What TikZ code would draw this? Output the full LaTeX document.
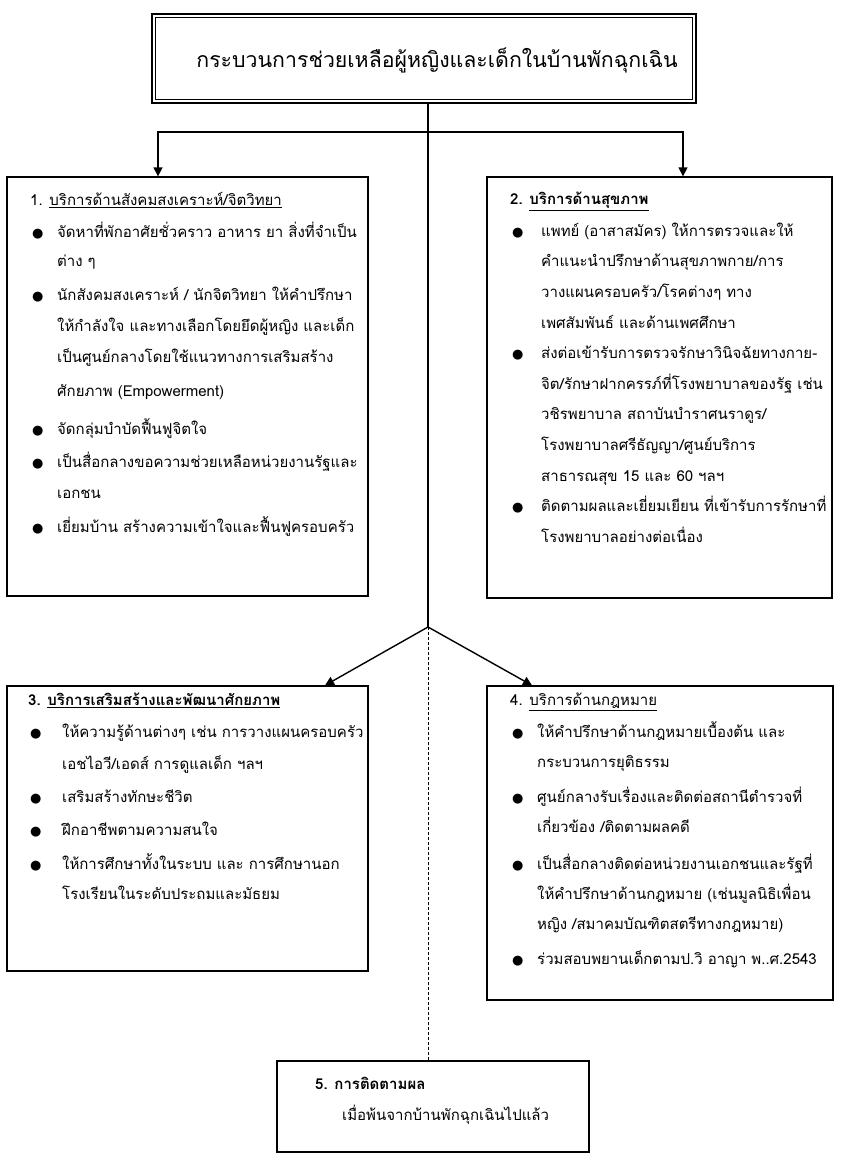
\documentclass[tikz,border=0pt]{standalone}
\usepackage{fontspec}
\setmainfont[Script=Thai]{Loma}
\newfontfamily\symfont{DejaVu Sans}
\usetikzlibrary{arrows.meta}
\newlength\bulw
\newcommand\bul{\makebox[\bulw][l]{\hspace{2pt}{\symfont\fontsize{13}{13}\selectfont ●}}}
\newcommand\cont{\hspace*{\bulw}}

\begin{document}
\begin{tikzpicture}[x=1pt, y=-1pt,
    box/.style={draw, line width=1.3pt, inner sep=0pt},
    list/.style={anchor=north west, align=left, inner sep=0pt,
        font=\fontsize{15}{31}\selectfont,
        execute at begin node={\setlength{\bulw}{#1}\rule{0pt}{16pt}}},
    arrow/.style={-{Triangle[length=9pt, width=9pt]}, line width=1.4pt},
]
    \useasboundingbox (0,0) rectangle (840,1158);

    % Title
    \node[box, line width=2.4pt, minimum width=544pt, minimum height=89pt] (title) at (424,58.5) {};
    \draw[line width=0.9pt] ([shift={(4.5pt,-4.5pt)}]title.north west) rectangle ([shift={(-4.5pt,4.5pt)}]title.south east);
    \node[font=\fontsize{21.3}{22}\selectfont, inner sep=0pt] (titletext) at (437,60) {กระบวนการช่วยเหลือผู้หญิงและเด็กในบ้านพักฉุกเฉิน};

    % Boxes
    \node[box, minimum width=361pt, minimum height=419pt] (b1) at (187.5,386.5) {};
    \node[box, minimum width=345pt, minimum height=421pt] (b2) at (659.5,387.5) {};
    \node[box, minimum width=361pt, minimum height=285pt] (b3) at (187.5,828.5) {};
    \node[box, minimum width=346pt, minimum height=314pt] (b4) at (660,843) {};
    \node[box, minimum width=312pt, minimum height=91pt] (b5) at (433,1106.5) {};

    % Connectors
    \coordinate (hub) at (428,627);
    \coordinate (fork) at (428,132);
    \draw[line width=1.4pt] (title.south -| hub) -- (hub);
    \draw[arrow] (fork) -| ([xshift=-29.5pt]b1.north);
    \draw[arrow] (fork) -| ([xshift=23.5pt]b2.north);
    \draw[arrow] (hub) -- ([xshift=137.5pt]b3.north);
    \draw[arrow] (hub) -- ([xshift=-128pt]b4.north);
    \draw[line width=0.8pt, dash pattern=on 3pt off 2pt] (hub) -- (hub |- b5.north);

    % 1
    \node[list=27pt] (t1) at (30,192) {1. \underline{บริการด้านสังคมสงเคราะห์/จิตวิทยา}\\[1pt]
        \bul จัดหาที่พักอาศัยชั่วคราว อาหาร ยา สิ่งที่จำเป็น\\[-2pt]
        \cont ต่าง ๆ\\[3pt]
        \bul นักสังคมสงเคราะห์ / นักจิตวิทยา ให้คำปรึกษา\\
        \cont ให้กำลังใจ และทางเลือกโดยยึดผู้หญิง  และเด็ก\\
        \cont เป็นศูนย์กลางโดยใช้แนวทางการเสริมสร้าง\\[3pt]
        \cont ศักยภาพ (Empowerment)\\[7pt]
        \bul จัดกลุ่มบำบัดฟื้นฟูจิตใจ\\[2pt]
        \bul เป็นสื่อกลางขอความช่วยเหลือหน่วยงานรัฐและ\\
        \cont เอกชน\\[3pt]
        \bul เยี่ยมบ้าน สร้างความเข้าใจและฟื้นฟูครอบครัว};

    % 2
    \node[list=31pt, font=\fontsize{15}{30.6}\selectfont] (t2) at (510,192) {\textbf{2. \underline{บริการด้านสุขภาพ}}\\[1pt]
        \bul แพทย์ (อาสาสมัคร) ให้การตรวจและให้\\
        \cont คำแนะนำปรึกษาด้านสุขภาพกาย/การ\\
        \cont วางแผนครอบครัว/โรคต่างๆ ทาง\\
        \cont เพศสัมพันธ์ และด้านเพศศึกษา\\
        \bul ส่งต่อเข้ารับการตรวจรักษาวินิจฉัยทางกาย-\\
        \cont จิต/รักษาฝากครรภ์ที่โรงพยาบาลของรัฐ เช่น\\
        \cont วชิรพยาบาล สถาบันบำราศนราดูร/\\
        \cont โรงพยาบาลศรีธัญญา/ศูนย์บริการ\\
        \cont สาธารณสุข 15 และ 60 ฯลฯ\\
        \bul ติดตามผลและเยี่ยมเยียน ที่เข้ารับการรักษาที่\\
        \cont โรงพยาบาลอย่างต่อเนื่อง};

    % 3
    \node[list=34pt] (t3) at (28,693) {\textbf{3. \underline{บริการเสริมสร้างและพัฒนาศักยภาพ}}\\[1pt]
        \bul ให้ความรู้ด้านต่างๆ  เช่น การวางแผนครอบครัว\\[1pt]
        \cont เอชไอวี/เอดส์ การดูแลเด็ก ฯลฯ\\[2pt]
        \bul เสริมสร้างทักษะชีวิต\\[2pt]
        \bul ฝึกอาชีพตามความสนใจ\\[3pt]
        \bul ให้การศึกษาทั้งในระบบ และ การศึกษานอก\\[-1pt]
        \cont โรงเรียนในระดับประถมและมัธยม};

    % 4
    \node[list=27pt] (t4) at (510,693) {4. \underline{บริการด้านกฎหมาย}\\[1pt]
        \bul ให้คำปรึกษาด้านกฎหมายเบื้องต้น และ\\[-1pt]
        \cont กระบวนการยุติธรรม\\[4pt]
        \bul ศูนย์กลางรับเรื่องและติดต่อสถานีตำรวจที่\\[-1pt]
        \cont เกี่ยวข้อง /ติดตามผลคดี\\[6pt]
        \bul เป็นสื่อกลางติดต่อหน่วยงานเอกชนและรัฐที่\\[-1pt]
        \cont ให้คำปรึกษาด้านกฎหมาย (เช่นมูลนิธิเพื่อน\\[-1pt]
        \cont หญิง /สมาคมบัณฑิตสตรีทางกฎหมาย)\\[4pt]
        \bul ร่วมสอบพยานเด็กตามป.วิ อาญา พ..ศ.2543};

    % 5
    \node[list=27pt] (t5) at (315,1077) {\textbf{5. การติดตามผล}\\
        \cont เมื่อพ้นจากบ้านพักฉุกเฉินไปแล้ว};
\end{tikzpicture}
\end{document}
